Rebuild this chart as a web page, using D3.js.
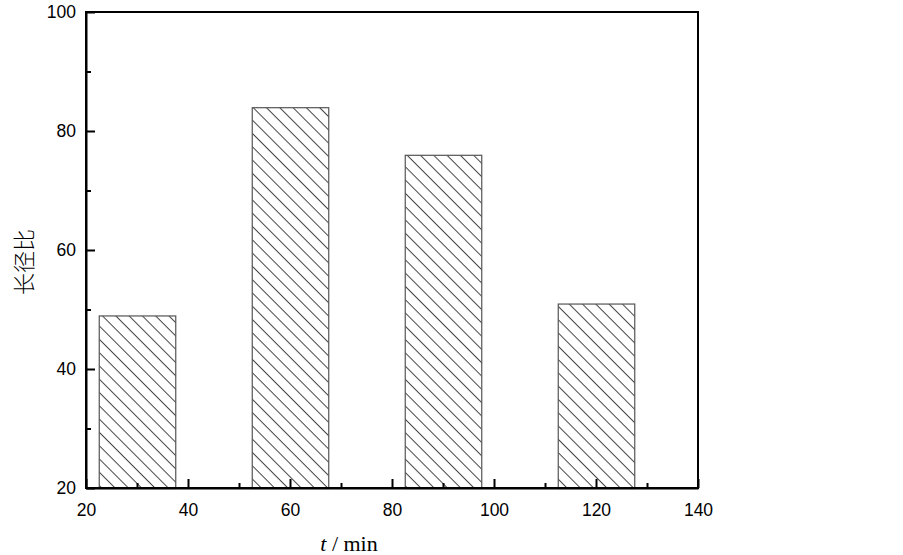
<!DOCTYPE html>
<html>
<head>
<meta charset="utf-8">
<script src="https://cdn.jsdelivr.net/npm/d3@7"></script>
<style>
  body { margin: 0; background: #fff; }
  svg { display: block; }
</style>
</head>
<body>
<svg id="chart" width="903" height="555"></svg>
<script>
// data
const times = [30, 60, 90, 120];
const ratios = [49, 84, 76, 51];
const bar_width = 15;
const x_ticks = [20, 40, 60, 80, 100, 120, 140];
const y_ticks = [20, 40, 60, 80, 100];

const svg = d3.select('#chart');
const box = { left: 86, right: 698, top: 12, bottom: 488 };

const x = d3.scaleLinear().domain([20, 140]).range([box.left, box.right]);
const y = d3.scaleLinear().domain([20, 100]).range([box.bottom, box.top]);

// hatch pattern "\\\"
const defs = svg.append('defs');
const pat = defs.append('pattern')
    .attr('id', 'hatch')
    .attr('patternUnits', 'userSpaceOnUse')
    .attr('width', 9.4)
    .attr('height', 9.4)
    .attr('patternTransform', 'rotate(45)');
pat.append('line')
    .attr('x1', 0).attr('y1', 0.5)
    .attr('x2', 9.4).attr('y2', 0.5)
    .style('stroke', '#444')
    .style('stroke-width', 1);

// bars
svg.append('g').selectAll('rect')
    .data(times)
    .join('rect')
    .attr('x', (d) => x(d - bar_width / 2) + 0.5)
    .attr('y', (d, i) => y(ratios[i]) + 0.5)
    .attr('width', x(bar_width) - x(0))
    .attr('height', (d, i) => y(20) - y(ratios[i]))
    .style('fill', 'url(#hatch)')
    .style('stroke', '#555')
    .style('stroke-width', 1.2);

// frame
svg.append('rect')
    .attr('x', box.left).attr('y', box.top)
    .attr('width', box.right - box.left)
    .attr('height', box.bottom - box.top)
    .style('fill', 'none')
    .style('stroke', '#000')
    .style('stroke-width', 2);

// bottom axis, ticks inward
svg.append('g')
    .attr('transform', 'translate(0,' + box.bottom + ')')
    .call(d3.axisBottom(x).tickValues(x_ticks).tickSize(-9).tickPadding(16).tickSizeOuter(0));
svg.append('g')
    .attr('transform', 'translate(0,' + box.bottom + ')')
    .call(d3.axisBottom(x).tickValues(d3.range(30, 140, 20)).tickSize(-5).tickFormat('').tickSizeOuter(0))
    .select('.domain').remove();

// left axis, ticks inward
svg.append('g')
    .attr('transform', 'translate(' + box.left + ',0)')
    .call(d3.axisLeft(y).tickValues(y_ticks).tickSize(-9).tickPadding(10).tickSizeOuter(0));
svg.append('g')
    .attr('transform', 'translate(' + box.left + ',0)')
    .call(d3.axisLeft(y).tickValues(d3.range(30, 100, 20)).tickSize(-5).tickFormat('').tickSizeOuter(0))
    .select('.domain').remove();

svg.selectAll('.domain').style('stroke', '#000').style('stroke-width', 2);
svg.selectAll('.tick line').style('stroke', '#000').style('stroke-width', 2);
svg.selectAll('.tick text')
    .style('font-family', '"Liberation Sans", Arial, sans-serif')
    .style('font-size', '17.5px')
    .style('fill', '#000');

// axis titles
const x_title = svg.append('text')
    .attr('x', 349)
    .attr('y', 551)
    .attr('text-anchor', 'middle')
    .style('font-family', '"Liberation Serif", "Times New Roman", serif')
    .style('font-size', '22px');
x_title.append('tspan').style('font-style', 'italic').text('t');
x_title.append('tspan').text(' / min');

svg.append('text')
    .attr('transform', 'translate(32,262) rotate(-90)')
    .attr('text-anchor', 'middle')
    .style('font-family', '"Noto Sans CJK SC", sans-serif')
    .style('font-weight', 300)
    .style('font-size', '22px')
    .text('长径比');
</script>
</body>
</html>
